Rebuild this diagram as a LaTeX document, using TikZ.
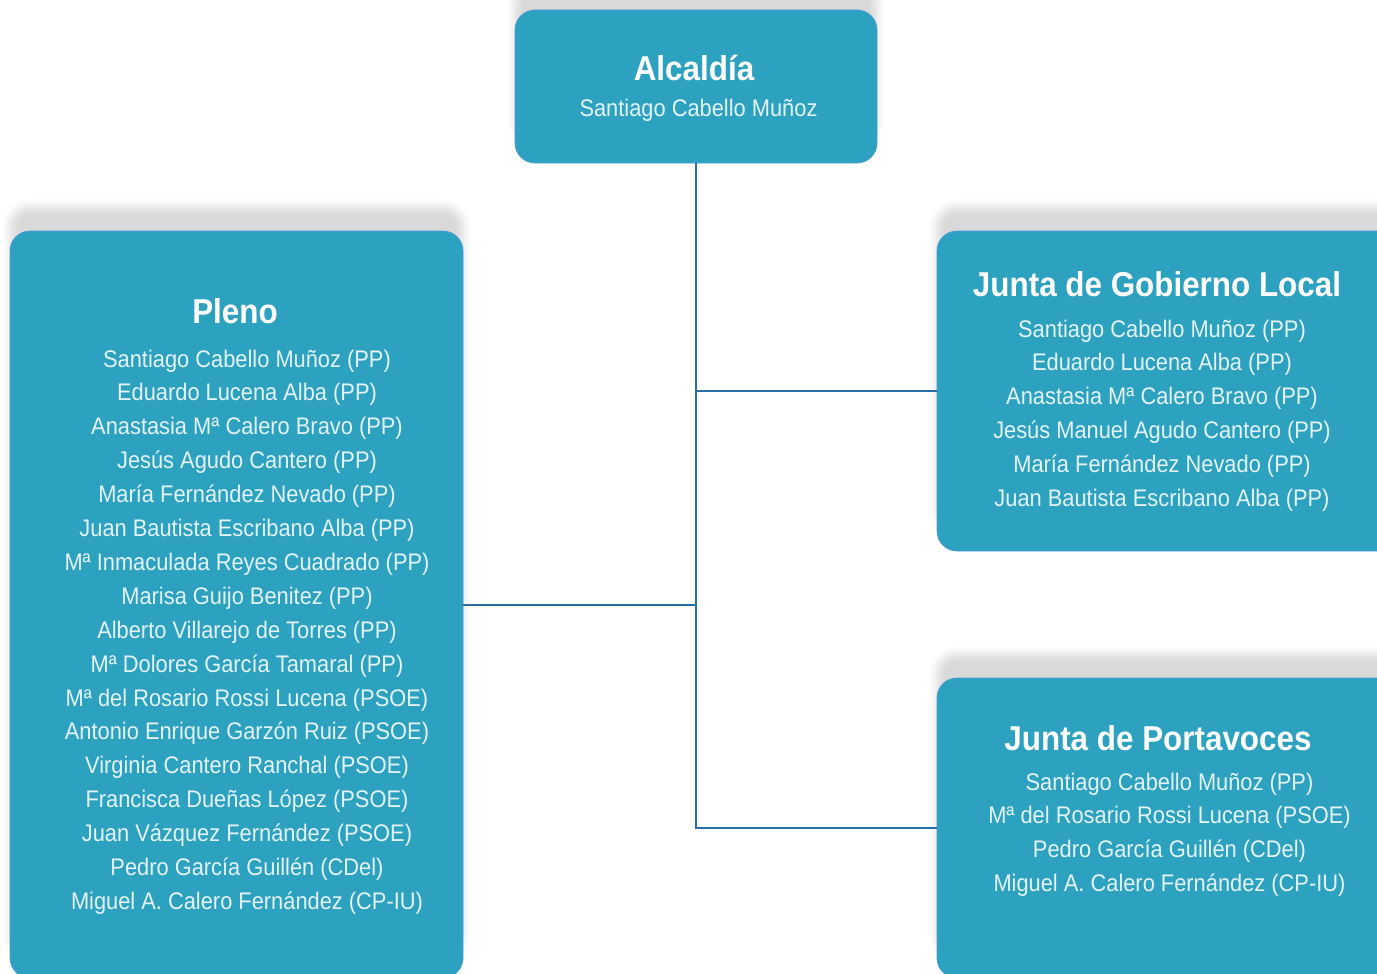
\documentclass[tikz,border=0pt]{standalone}
\usepackage{fontspec}
\setmainfont[FakeStretch=0.91]{Liberation Sans}
\usetikzlibrary{shadows.blur}
\definecolor{boxfill}{RGB}{44,161,192}
\definecolor{boxedge}{RGB}{80,155,215}
\definecolor{linecol}{RGB}{46,108,165}
\definecolor{namecol}{RGB}{228,243,248}
\tikzset{
  orgbox/.style={draw=boxedge, line width=0.8pt, fill=boxfill, rounded corners=20pt, inner sep=0pt,
    blur shadow={shadow xshift=0pt, shadow yshift=24pt, shadow opacity=15, shadow blur radius=8pt}},
  titletext/.style={anchor=base, text=white, inner sep=0pt, font=\bfseries\fontsize{34.5}{40}\selectfont},
  nametext/.style={anchor=base, text=namecol, inner sep=0pt, font=\fontsize{24}{30}\selectfont},
  conn/.style={draw=linecol, line width=2pt}
}
\begin{document}
\begin{tikzpicture}[x=1pt,y=-1pt]
\useasboundingbox (0,0) rectangle (1377,974);
% boxes
\node[orgbox, minimum width=362pt, minimum height=153pt] (alc) at (696,86.5) {};
\node[orgbox, minimum width=453pt, minimum height=747pt] (pleno) at (236.5,604.5) {};
\node[orgbox, minimum width=463pt, minimum height=320pt] (gob) at (1168.5,391) {};
\node[orgbox, minimum width=463pt, minimum height=300pt] (port) at (1168.5,828) {};
% connectors
\draw[conn] (alc.south) -- (alc.south |- port.west) -- (port.west);
\draw[conn] (alc.south |- gob.west) -- (gob.west);
\draw[conn] (alc.south |- pleno.east) -- (pleno.east);
% Alcaldia
\node[titletext] (alct) at (694,81) {Alcaldía};
\node[nametext] (alcn) at (698.5,117) {Santiago Cabello Muñoz};
% Pleno
\node[titletext] (plenot) at (235,323) {Pleno};
\foreach \t [count=\i from 0] in {{Santiago Cabello Muñoz (PP)},{Eduardo Lucena Alba (PP)},{Anastasia Mª Calero Bravo (PP)},{Jesús Agudo Cantero (PP)},{María Fernández Nevado (PP)},{Juan Bautista Escribano Alba (PP)},{Mª Inmaculada Reyes Cuadrado (PP)},{Marisa Guijo Benitez (PP)},{Alberto Villarejo de Torres (PP)},{Mª Dolores García Tamaral (PP)},{Mª del Rosario Rossi Lucena (PSOE)},{Antonio Enrique Garzón Ruiz (PSOE)},{Virginia Cantero Ranchal (PSOE)},{Francisca Dueñas López (PSOE)},{Juan Vázquez Fernández (PSOE)},{Pedro García Guillén (CDel)},{Miguel A. Calero Fernández (CP-IU)}}
  \node[nametext] (pl\i) at (247,367+33.9*\i) {\t};
% Junta de Gobierno Local
\node[titletext] (gobt) at (1157,296) {Junta de Gobierno Local};
\foreach \t [count=\i from 0] in {{Santiago Cabello Muñoz (PP)},{Eduardo Lucena Alba (PP)},{Anastasia Mª Calero Bravo (PP)},{Jesús Manuel Agudo Cantero (PP)},{María Fernández Nevado (PP)},{Juan Bautista Escribano Alba (PP)}}
  \node[nametext] (gb\i) at (1162,337+33.9*\i) {\t};
% Junta de Portavoces
\node[titletext] (portt) at (1158,750) {Junta de Portavoces};
\foreach \t [count=\i from 0] in {{Santiago Cabello Muñoz (PP)},{Mª del Rosario Rossi Lucena (PSOE)},{Pedro García Guillén (CDel)},{Miguel A. Calero Fernández (CP-IU)}}
  \node[nametext] (pt\i) at (1169.5,790+33.7*\i) {\t};
\end{tikzpicture}
\end{document}
